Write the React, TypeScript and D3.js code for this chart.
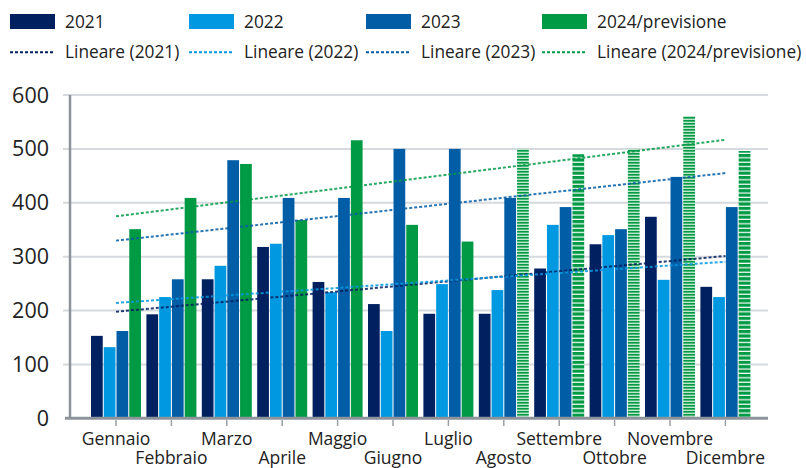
import React from 'react';
import * as d3 from 'd3';

// Monthly figures per year
const months = [
  'Gennaio', 'Febbraio', 'Marzo', 'Aprile', 'Maggio', 'Giugno',
  'Luglio', 'Agosto', 'Settembre', 'Ottobre', 'Novembre', 'Dicembre',
];
const seriesNames = ['2021', '2022', '2023', '2024/previsione'];
const values2021 = [153, 193, 258, 318, 253, 212, 194, 194, 278, 323, 374, 244];
const values2022 = [132, 225, 283, 324, 234, 162, 249, 238, 359, 340, 257, 225];
const values2023 = [162, 258, 479, 409, 409, 500, 500, 409, 392, 351, 448, 392];
const values2024 = [351, 409, 472, 368, 516, 359, 328, 500, 490, 500, 561, 496];
// 2024 month status: 0 = actual, 1 = forecast (A), 2 = forecast (B)
const status2024 = [0, 0, 0, 0, 0, 0, 0, 1, 2, 1, 1, 2];
const yTicks = [0, 100, 200, 300, 400, 500, 600];

const W = 806;
const H = 468;
const COLORS = ['#002060', '#0098E0', '#005DA6', '#009A44'];
const TEXT = '#222222';
const FONT = "'Open Sans', 'Noto Sans', sans-serif";

const allSeries = [values2021, values2022, values2023, values2024];

// least-squares linear trend over month index
function linearTrend(vals: number[]) {
  const xs = vals.map((_, i) => i);
  const mx = d3.mean(xs) as number;
  const my = d3.mean(vals) as number;
  const sxy = d3.sum(xs, (x, i) => (x - mx) * (vals[i] - my));
  const sxx = d3.sum(xs, (x) => (x - mx) * (x - mx));
  const slope = sxy / sxx;
  const intercept = my - slope * mx;
  return [0, vals.length - 1].map((i) => ({ i, v: intercept + slope * i }));
}

export default function App() {
  const y = d3.scaleLinear().domain([0, 600]).range([418.3, 95]);
  const x = d3.scaleBand<string>().domain(months).range([88.3, 753.1]);
  const inner = d3.scaleBand<string>().domain(seriesNames).range([-25, 25]).paddingInner(0.08);
  const cx = (m: string) => (x(m) as number) + x.bandwidth() / 2;

  const trendLine = d3
    .line<{ i: number; v: number }>()
    .x((d) => cx(months[d.i]))
    .y((d) => y(d.v));

  const plotLeft = 70;
  const plotRight = 768;

  const fillFor = (s: number, m: number) => {
    if (s === 3) {
      if (status2024[m] === 1) return 'url(#hatchLight)';
      if (status2024[m] === 2) return 'url(#hatchDark)';
    }
    return COLORS[s];
  };

  const legendX = [10, 189, 366, 542];

  return (
    <svg
      width={W}
      height={H}
      viewBox={`0 0 ${W} ${H}`}
      style={{ position: 'absolute', left: 0, top: 0, background: '#fff' }}
      fontFamily={FONT}
    >
      <defs>
        <pattern id="hatchLight" patternUnits="userSpaceOnUse" width={12} height={3}>
          <rect width={12} height={3} fill="#bfe5cd" />
          <rect width={12} height={1.6} fill="#009A44" />
        </pattern>
        <pattern id="hatchDark" patternUnits="userSpaceOnUse" width={12} height={4.4}>
          <rect width={12} height={4.4} fill="#ffffff" />
          <rect width={12} height={3.2} fill="#009A44" />
        </pattern>
      </defs>

      {/* legend */}
      {seriesNames.map((name, s) => (
        <g key={name}>
          <rect x={legendX[s]} y={14} width={45} height={15} fill={COLORS[s]} />
          <text x={legendX[s] + 55} y={27.5} fontSize={17.3} fill={TEXT}>
            {name}
          </text>
          <line
            x1={legendX[s]}
            x2={legendX[s] + 45}
            y1={52.3}
            y2={52.3}
            stroke={COLORS[s]}
            strokeWidth={2}
            strokeDasharray="3,2"
          />
          <text x={legendX[s] + 55} y={58} fontSize={17.3} fill={TEXT}>
            {`Lineare (${name})`}
          </text>
        </g>
      ))}

      {/* gridlines */}
      {yTicks
        .filter((t) => t > 0)
        .map((t) => (
          <line key={t} x1={63} x2={plotRight} y1={y(t)} y2={y(t)} stroke="#d6d9dd" strokeWidth={2} />
        ))}

      {/* y labels */}
      {yTicks.map((t) => (
        <text key={t} x={49} y={y(t) + 7.5} textAnchor="end" fontSize={21.5} fill={TEXT}>
          {t}
        </text>
      ))}

      {/* bars */}
      {allSeries.map((vals, s) =>
        vals.map((v, m) => (
          <rect
            key={`${s}-${m}`}
            x={cx(months[m]) + (inner(seriesNames[s]) as number)}
            y={y(v)}
            width={inner.bandwidth()}
            height={y(0) - y(v)}
            fill={fillFor(s, m)}
          />
        ))
      )}

      {/* axes */}
      <line x1={plotLeft} x2={plotLeft} y1={95} y2={y(0)} stroke="#8c939b" strokeWidth={2.5} />
      <line x1={65} x2={plotRight} y1={y(0)} y2={y(0)} stroke="#8c939b" strokeWidth={3} />
      {months.map((m) => (
        <line key={m} x1={cx(m)} x2={cx(m)} y1={420} y2={426} stroke="#9aa0a6" strokeWidth={1.5} />
      ))}

      {/* trend lines */}
      {allSeries.map((vals, s) => (
        <path
          key={`trend-${s}`}
          d={trendLine(linearTrend(vals)) as string}
          fill="none"
          stroke={COLORS[s]}
          strokeWidth={2}
          strokeDasharray="3,2"
          opacity={0.85}
        />
      ))}

      {/* month labels, staggered on two rows */}
      {months.map((m, i) => (
        <text
          key={m}
          x={cx(m)}
          y={i % 2 === 0 ? 445 : 463.5}
          textAnchor="middle"
          fontSize={17.5}
          fill={TEXT}
        >
          {m}
        </text>
      ))}
    </svg>
  );
}
